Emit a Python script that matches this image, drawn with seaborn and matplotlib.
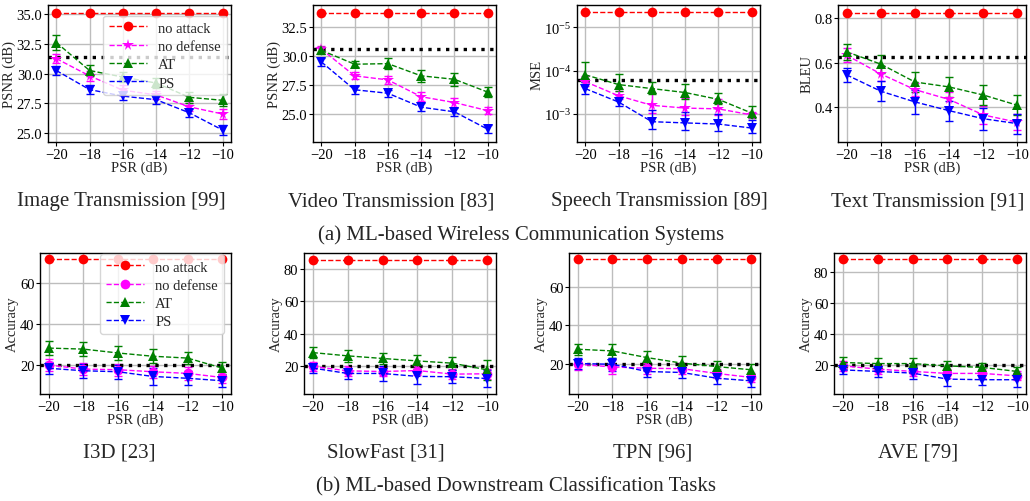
import numpy as np
import matplotlib
matplotlib.use('Agg')
import matplotlib.pyplot as plt
import matplotlib.ticker as mticker
import seaborn as sns

# ── Data ─────────────────────────────────────────────────────
psr = [-20, -18, -16, -14, -12, -10]

# (a) wireless communication systems
img_noattack = [35.1] * 6
img_thr = 31.35
img_at = [32.6, 30.25, 29.7, 29.2, 28.0, 27.75]
img_at_err = [0.6, 0.45, 0.4, 0.45, 0.45, 0.5]
img_nd = [31.25, 29.8, 28.6, 28.2, 27.2, 26.6]
img_nd_err = [0.4, 0.4, 0.4, 0.35, 0.35, 0.4]
img_ps = [30.25, 28.65, 28.1, 27.8, 26.7, 25.25]
img_ps_err = [0.35, 0.35, 0.35, 0.35, 0.35, 0.4]

vid_noattack = [33.75] * 6
vid_thr = 30.58
vid_at = [30.5, 29.3, 29.35, 28.3, 28.0, 26.9]
vid_at_err = [0.3, 0.25, 0.45, 0.5, 0.55, 0.45]
vid_nd = [30.6, 28.3, 27.95, 26.5, 26.0, 25.3]
vid_nd_err = [0.3, 0.3, 0.35, 0.4, 0.35, 0.3]
vid_ps = [29.5, 27.1, 26.8, 25.6, 25.2, 23.7]
vid_ps_err = [0.35, 0.35, 0.3, 0.35, 0.35, 0.35]

sph_noattack = [4.4e-6] * 6
sph_thr = 1.65e-4
sph_at = [1.25e-4, 2.1e-4, 2.6e-4, 3.2e-4, 4.6e-4, 9.5e-4]
sph_at_err = [6e-5, 9e-5, 8e-5, 1.2e-4, 1.3e-4, 3e-4]
sph_nd = [1.8e-4, 3.8e-4, 6.3e-4, 7.3e-4, 7.6e-4, 1.05e-3]
sph_nd_err = [5e-5, 8e-5, 3e-4, 3e-4, 3e-4, 1.5e-4]
sph_ps = [2.6e-4, 5.3e-4, 1.5e-3, 1.6e-3, 1.7e-3, 2.1e-3]
sph_ps_err = [8e-5, 1.2e-4, 7e-4, 7e-4, 7e-4, 7e-4]

txt_noattack = [0.82] * 6
txt_thr = 0.625
txt_at = [0.648, 0.593, 0.513, 0.491, 0.455, 0.409]
txt_at_err = [0.035, 0.04, 0.045, 0.045, 0.045, 0.045]
txt_nd = [0.633, 0.549, 0.479, 0.435, 0.366, 0.333]
txt_nd_err = [0.03, 0.03, 0.03, 0.035, 0.04, 0.035]
txt_ps = [0.545, 0.472, 0.424, 0.385, 0.349, 0.327]
txt_ps_err = [0.03, 0.045, 0.055, 0.045, 0.05, 0.045]

# (b) downstream classification tasks
i3d_noattack = [72.0] * 6
i3d_at = [28.3, 27.8, 25.9, 24.3, 23.4, 18.5]
i3d_at_err = [3.5, 3.5, 3.5, 3.5, 3.0, 3.0]
i3d_nd = [20.0, 18.0, 17.7, 16.7, 15.9, 13.9]
i3d_nd_err = [3.0, 3.0, 3.0, 3.0, 3.0, 2.5]
i3d_ps = [18.4, 17.2, 16.7, 14.4, 13.5, 12.3]
i3d_ps_err = [3.0, 3.5, 3.5, 4.0, 3.5, 3.0]

sf_noattack = [85.5] * 6
sf_at = [28.5, 26.5, 24.9, 23.4, 22.0, 17.9]
sf_at_err = [3.5, 3.5, 3.5, 3.5, 4.0, 6.0]
sf_nd = [20.0, 17.3, 16.9, 17.5, 15.3, 15.5]
sf_nd_err = [3.0, 3.0, 3.0, 3.0, 3.0, 3.0]
sf_ps = [19.0, 15.7, 15.7, 13.9, 13.7, 12.6]
sf_ps_err = [3.0, 3.5, 4.5, 4.5, 4.0, 5.0]

tpn_noattack = [74.6] * 6
tpn_at = [27.5, 26.6, 23.1, 20.2, 18.4, 16.7]
tpn_at_err = [3.0, 3.5, 3.5, 3.5, 3.0, 3.0]
tpn_nd = [19.6, 18.2, 17.5, 17.3, 14.8, 12.7]
tpn_nd_err = [3.0, 3.5, 3.0, 3.0, 2.5, 2.5]
tpn_ps = [20.0, 19.6, 15.8, 15.3, 12.3, 10.9]
tpn_ps_err = [3.0, 3.5, 3.0, 3.0, 3.0, 3.0]

ave_noattack = [88.5] * 6
ave_at = [21.3, 20.6, 20.6, 19.1, 18.1, 15.5]
ave_at_err = [3.5, 3.5, 3.5, 3.0, 3.0, 3.0]
ave_nd = [19.1, 17.0, 15.5, 14.2, 14.2, 12.6]
ave_nd_err = [3.0, 3.0, 3.0, 3.0, 3.0, 3.0]
ave_ps = [16.5, 15.5, 14.4, 10.5, 10.1, 10.1]
ave_ps_err = [3.0, 3.5, 4.0, 4.5, 3.5, 4.5]
cls_thr = 20.0

# ── Style ────────────────────────────────────────────────────
sns.set_theme(style='ticks')
plt.rcParams['font.family'] = ['Liberation Serif', 'DejaVu Serif']
plt.rcParams['mathtext.fontset'] = 'stix'
plt.rcParams['axes.edgecolor'] = 'black'
plt.rcParams['axes.linewidth'] = 1.0
plt.rcParams['xtick.color'] = 'black'
plt.rcParams['ytick.color'] = 'black'

FS = 10.5
W, H = 1030, 502
fig = plt.figure(figsize=(W / 100, H / 100), dpi=100)


def add_ax(x0, x1, y0, y1):
    return fig.add_axes([x0 / W, 1 - y1 / H, (x1 - x0) / W, (y1 - y0) / H])


def panel(ax, noattack, nd, nd_err, at, at_err, ps, ps_err, thr, nd_marker, ylabel):
    series = [
        ('no attack', noattack, None, 'red', 'o', 7),
        ('no defense', nd, nd_err, 'magenta', nd_marker, 8.5 if nd_marker == '*' else 7),
        ('AT', at, at_err, 'green', '^', 7),
        ('PS', ps, ps_err, 'blue', 'v', 7),
    ]
    for label, vals, err, col, mk, ms in series:
        if err is not None:
            ax.errorbar(psr, vals, yerr=err, fmt='none', ecolor=col,
                        elinewidth=1, capsize=3, capthick=1, zorder=2)
        sns.lineplot(x=psr, y=vals, ax=ax, color=col, marker=mk, markersize=ms,
                     markeredgewidth=0, linestyle='--', linewidth=1,
                     label=label, zorder=3)
    ax.axhline(thr, color='black', linestyle=':', linewidth=2.4, zorder=2.5)
    ax.set_xlim(-20.5, -9.5)
    ax.set_xticks(psr)
    ax.grid(True, color='#bdbdbd', linewidth=1)
    ax.set_axisbelow(True)
    ax.set_xlabel('PSR (dB)', fontsize=FS, labelpad=0)
    ax.set_ylabel(ylabel, fontsize=FS, labelpad=0.5)
    ax.tick_params(labelsize=FS, length=3, width=0.8, pad=1)
    ax.get_legend().remove()


# ── Row (a) ──────────────────────────────────────────────────
ax1 = add_ax(48, 231, 6, 143)
panel(ax1, img_noattack, img_nd, img_nd_err, img_at, img_at_err, img_ps, img_ps_err,
      img_thr, '*', 'PSNR (dB)')
ax1.set_ylim(24.25, 35.75)
ax1.set_yticks([25, 27.5, 30, 32.5, 35])
ax1.yaxis.set_major_formatter(mticker.FormatStrFormatter('%.1f'))
ax1.legend(loc='upper right', bbox_to_anchor=(1.0, 0.955), fontsize=FS,
           borderaxespad=0.3, framealpha=0.8, handlelength=2.6, labelspacing=0.35)

ax2 = add_ax(313, 496, 6, 143)
panel(ax2, vid_noattack, vid_nd, vid_nd_err, vid_at, vid_at_err, vid_ps, vid_ps_err,
      vid_thr, '*', 'PSNR (dB)')
ax2.set_ylim(22.6, 34.4)
ax2.set_yticks([25, 27.5, 30, 32.5])
ax2.yaxis.set_major_formatter(mticker.FormatStrFormatter('%.1f'))

ax3 = add_ax(577, 760, 6, 143)
panel(ax3, sph_noattack, sph_nd, sph_nd_err, sph_at, sph_at_err, sph_ps, sph_ps_err,
      sph_thr, '*', 'MSE')
ax3.set_yscale('log')
ax3.set_ylim(4.4e-3, 3.1e-6)
ax3.yaxis.set_major_locator(mticker.FixedLocator([1e-5, 1e-4, 1e-3]))
ax3.yaxis.set_minor_locator(mticker.NullLocator())

ax4 = add_ax(838, 1026, 6, 143)
panel(ax4, txt_noattack, txt_nd, txt_nd_err, txt_at, txt_at_err, txt_ps, txt_ps_err,
      txt_thr, '*', 'BLEU')
ax4.set_ylim(0.245, 0.857)
ax4.set_yticks([0.4, 0.6, 0.8])

# ── Row (b) ──────────────────────────────────────────────────
ax5 = add_ax(40, 231, 254, 395)
panel(ax5, i3d_noattack, i3d_nd, i3d_nd_err, i3d_at, i3d_at_err, i3d_ps, i3d_ps_err,
      cls_thr, 'o', 'Accuracy')
ax5.set_ylim(5.8, 74.9)
ax5.set_yticks([20, 40, 60])
ax5.legend(loc='upper right', bbox_to_anchor=(0.97, 1.0), fontsize=FS,
           borderaxespad=0.1, framealpha=0.8, handlelength=2.6, labelspacing=0.35)

ax6 = add_ax(304, 496, 254, 395)
panel(ax6, sf_noattack, sf_nd, sf_nd_err, sf_at, sf_at_err, sf_ps, sf_ps_err,
      cls_thr, 'o', 'Accuracy')
ax6.set_ylim(3.1, 89.6)
ax6.set_yticks([20, 40, 60, 80])

ax7 = add_ax(569, 760, 254, 395)
panel(ax7, tpn_noattack, tpn_nd, tpn_nd_err, tpn_at, tpn_at_err, tpn_ps, tpn_ps_err,
      cls_thr, 'o', 'Accuracy')
ax7.set_ylim(4.0, 78.0)
ax7.set_yticks([20, 40, 60])

ax8 = add_ax(834, 1026, 254, 395)
panel(ax8, ave_noattack, ave_nd, ave_nd_err, ave_at, ave_at_err, ave_ps, ave_ps_err,
      cls_thr, 'o', 'Accuracy')
ax8.set_ylim(0.8, 92.6)
ax8.set_yticks([20, 40, 60, 80])

# ── Captions ─────────────────────────────────────────────────
CFS = 15
top_caps = ['Image Transmission [99]', 'Video Transmission [83]',
            'Speech Transmission [89]', 'Text Transmission [91]']
top_cx = [121, 391, 659, 928]
for t, cx in zip(top_caps, top_cx):
    fig.text(cx / W, 1 - 202 / H, t, ha='center', va='center', fontsize=CFS)
fig.text(521 / W, 1 - 235 / H, '(a) ML-based Wireless Communication Systems',
         ha='center', va='center', fontsize=CFS)

bot_caps = ['I3D [23]', 'SlowFast [31]', 'TPN [96]', 'AVE [79]']
bot_cx = [119, 386, 653, 918]
for t, cx in zip(bot_caps, bot_cx):
    fig.text(cx / W, 1 - 453 / H, t, ha='center', va='center', fontsize=CFS)
fig.text(516 / W, 1 - 487 / H, '(b) ML-based Downstream Classification Tasks',
         ha='center', va='center', fontsize=CFS)

plt.savefig('out.png', dpi=100)
